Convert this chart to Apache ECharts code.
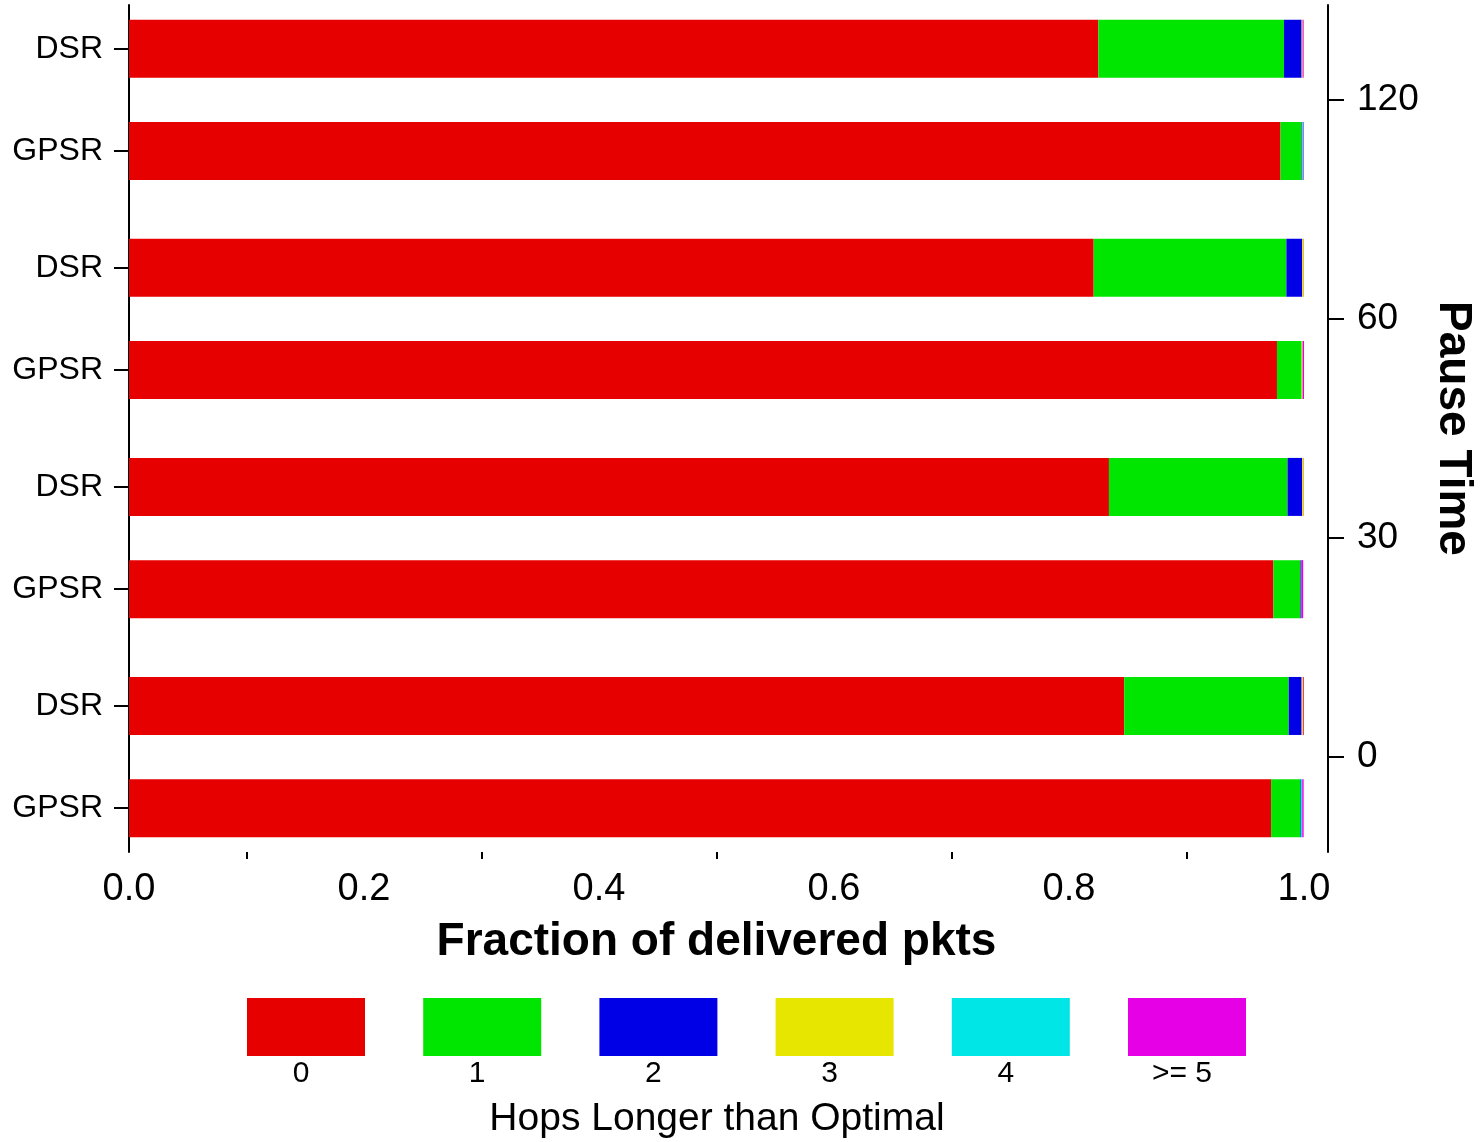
<!DOCTYPE html>
<html>
<head>
<meta charset="utf-8">
<script src="https://cdn.jsdelivr.net/npm/echarts@6/dist/echarts.min.js"></script>
<style>
  html, body { margin: 0; padding: 0; background: #fff; }
  #chart { width: 1481px; height: 1142px; }
</style>
</head>
<body>
<div id="chart"></div>
<script>
  // categories
  const pauseTimes = [120, 60, 30, 0]
  const protocols = ['DSR', 'GPSR']
  const hopNames = ['0', '1', '2', '3', '4', '>= 5']
  const hopColors = ['#e60000', '#00e600', '#0000e6', '#e6e600', '#00e6e6', '#e600e6']

  // fraction of delivered pkts, bar order: DSR 120, GPSR 120, DSR 60, GPSR 60, DSR 30, GPSR 30, DSR 0, GPSR 0
  const hops0 = [0.825, 0.980, 0.821, 0.977, 0.834, 0.974, 0.847, 0.972]
  const hops1 = [0.158, 0.018, 0.164, 0.021, 0.152, 0.023, 0.140, 0.025]
  const hops2 = [0.015, 0.0005, 0.0135, 0, 0.0125, 0.0008, 0.011, 0.0005]
  const hops3 = [0.0008, 0, 0.0013, 0.0008, 0.0013, 0, 0.0013, 0]
  const hops4 = [0, 0.001, 0, 0, 0, 0, 0, 0.001]
  const hops5 = [0.0009, 0.001, 0.001, 0.0015, 0.001, 0.0015, 0.001, 0.0012]
  const hopSeries = [hops0, hops1, hops2, hops3, hops4, hops5]

  // fine grained category axis so pairs sit closer than groups
  const SLOTS = 117, FIRST = 6, GROUP_STEP = 30, PAIR_STEP = 14
  const slots = Array.from({ length: SLOTS }, (_, i) => String(i))
  const barSlots = []
  const leftLabels = {}
  const rightLabels = {}
  pauseTimes.forEach((p, g) => {
    protocols.forEach((name, m) => {
      const s = FIRST + g * GROUP_STEP + m * PAIR_STEP
      barSlots.push(s)
      leftLabels[s] = name
    })
    rightLabels[FIRST + g * GROUP_STEP + PAIR_STEP / 2] = String(p)
  })

  const font = 'Liberation Sans'
  const black = '#000'

  const chart = echarts.init(document.getElementById('chart'))
  chart.setOption({
    animation: false,
    textStyle: { fontFamily: font, color: black },
    grid: { left: 129, right: 177, top: 5, bottom: 290, containLabel: false, outerBoundsMode: 'none' },
    xAxis: {
      type: 'value',
      min: 0,
      max: 1,
      interval: 0.2,
      name: 'Fraction of delivered pkts',
      nameLocation: 'middle',
      nameGap: 67,
      nameTextStyle: { fontSize: 46, fontWeight: 'bold', color: black, fontFamily: font },
      axisLine: { lineStyle: { color: black, width: 2 } },
      axisTick: { length: 16, lineStyle: { color: black, width: 2 } },
      minorTick: { show: true, splitNumber: 2, length: 7, lineStyle: { color: black, width: 2 } },
      axisLabel: { fontSize: 38, color: black, margin: 19, formatter: v => v.toFixed(1) },
      splitLine: { show: false }
    },
    yAxis: [
      {
        type: 'category',
        data: slots,
        inverse: true,
        boundaryGap: false,
        position: 'left',
        axisLine: { lineStyle: { color: black, width: 2 } },
        axisTick: { length: 15, interval: (i) => leftLabels[i] !== undefined, lineStyle: { color: black, width: 2 } },
        axisLabel: {
          fontSize: 32, color: black, margin: 26,
          interval: (i) => leftLabels[i] !== undefined,
          formatter: (v, i) => leftLabels[i] || ''
        },
        splitLine: { show: false }
      },
      {
        type: 'category',
        data: slots,
        inverse: true,
        boundaryGap: false,
        position: 'right',
        offset: 24,
        name: 'Pause Time',
        nameLocation: 'middle',
        nameRotate: -90,
        nameGap: 102,
        nameTextStyle: { fontSize: 46, fontWeight: 'bold', color: black, fontFamily: font },
        axisLine: { lineStyle: { color: black, width: 2 } },
        axisTick: { length: 16, interval: (i) => rightLabels[i] !== undefined, lineStyle: { color: black, width: 2 } },
        axisLabel: {
          fontSize: 37, color: black, margin: 29,
          interval: (i) => rightLabels[i] !== undefined,
          formatter: (v, i) => rightLabels[i] || ''
        },
        splitLine: { show: false }
      }
    ],
    legend: {
      left: 247,
      top: 998,
      padding: 0,
      itemWidth: 118,
      itemHeight: 58,
      itemGap: 58.2,
      icon: 'rect',
      selectedMode: false,
      formatter: () => '',
      data: hopNames
    },
    graphic: hopNames.map((n, i) => ({
      type: 'text',
      x: 301 + i * 176.2,
      y: 1074,
      style: { text: n, fontSize: 30, fontFamily: font, fill: black, align: 'center', verticalAlign: 'middle' }
    })).concat([{
      type: 'text',
      x: 717,
      y: 1119,
      style: { text: 'Hops Longer than Optimal', fontSize: 39, fontFamily: font, fill: black, align: 'center', verticalAlign: 'middle' }
    }]),
    series: hopSeries.map((vals, h) => ({
      type: 'bar',
      name: hopNames[h],
      stack: 'total',
      barWidth: 58,
      yAxisIndex: 0,
      itemStyle: { color: hopColors[h] },
      data: vals.map((v, k) => [v, barSlots[k]])
    }))
  })
</script>
</body>
</html>
